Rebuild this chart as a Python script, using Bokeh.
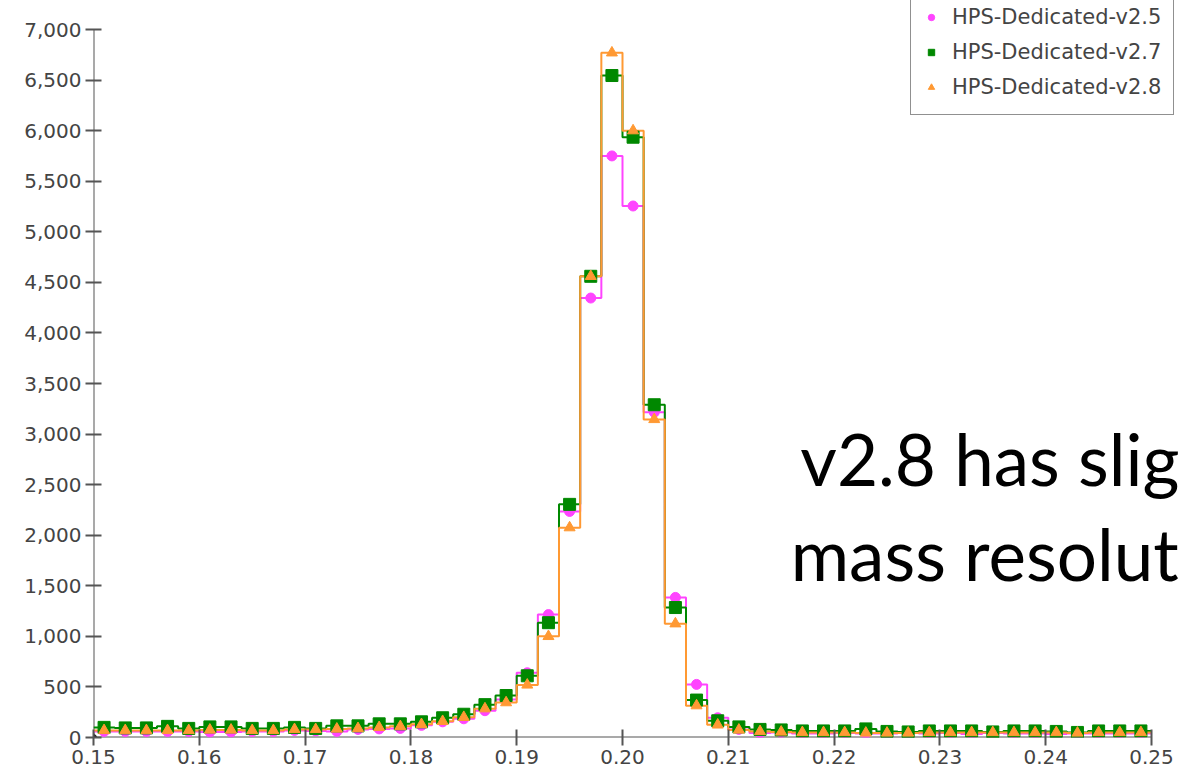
from bokeh.plotting import figure
from bokeh.models import Range1d, Label, Legend, LegendItem, NumeralTickFormatter, FixedTicker
from bokeh.embed import file_html
from bokeh.resources import INLINE

# bin centres (mass, GeV)
centers = [round(0.151 + 0.002 * i, 3) for i in range(50)]
bin_width = 0.002

v25 = [60, 60, 60, 60, 60, 55, 55, 60, 60, 70, 65, 60, 80, 85, 90, 120, 155, 185, 265, 375,
       640, 1215, 2235, 4345, 5750, 5255, 3215, 1385, 525, 195, 80, 45, 50, 40, 40, 45, 40, 40, 45, 40,
       45, 35, 45, 40, 40, 35, 40, 40, 40, 40]
v27 = [100, 95, 95, 110, 90, 105, 105, 90, 90, 100, 90, 115, 115, 135, 135, 155, 195, 230, 325, 415,
       610, 1135, 2305, 4560, 6545, 5935, 3290, 1285, 370, 165, 105, 80, 75, 65, 65, 65, 85, 60, 55, 65,
       65, 65, 55, 65, 65, 60, 50, 65, 65, 65]
v28 = [70, 70, 70, 70, 70, 75, 75, 70, 70, 80, 80, 85, 90, 100, 110, 130, 160, 200, 285, 345,
       520, 1000, 2075, 4560, 6770, 6000, 3145, 1125, 315, 125, 75, 60, 55, 50, 50, 50, 45, 45, 45, 50,
       50, 50, 50, 50, 50, 50, 45, 50, 50, 50]

names = ["HPS-Dedicated-v2.5", "HPS-Dedicated-v2.7", "HPS-Dedicated-v2.8"]
x_ticks = [0.15, 0.16, 0.17, 0.18, 0.19, 0.20, 0.21, 0.22, 0.23, 0.24, 0.25]
y_ticks = list(range(0, 7001, 500))
note_lines = ["v2.8 has slig", "mass resolut"]

# layout: plot frame reaches the canvas top/right edges (legend is cut there)
W, H = 1179, 776
left, bottom = 93, 39
axis_px_x = 1058   # pixels spanned by 0.15..0.25
axis_px_y = 708    # pixels spanned by 0..7000
frame_w, frame_h = W - left, H - bottom
x_end = x_ticks[0] + (x_ticks[-1] - x_ticks[0]) * frame_w / axis_px_x
y_end = y_ticks[-1] * frame_h / axis_px_y

p = figure(width=W, height=H, output_backend="svg", toolbar_location=None,
           x_range=Range1d(x_ticks[0], x_end), y_range=Range1d(0, y_end),
           min_border_left=left, min_border_right=0, min_border_top=0, min_border_bottom=bottom)
p.outline_line_color = None
p.xgrid.visible = False
p.ygrid.visible = False
p.background_fill_color = "white"

# own axis lines, limited to the ticked span
axis_col = "#555555"
p.segment(x0=[x_ticks[0], x_ticks[0]], y0=[0, 0], x1=[x_ticks[-1], x_ticks[0]], y1=[0, y_ticks[-1]],
          line_color=axis_col, line_width=2)

edges = [c - bin_width / 2 for c in centers] + [centers[-1] + bin_width / 2]

colors = ["#ff44ff", "#008800", "#ff9933"]
markers = ["circle", "square", "triangle"]
sizes = [10, 12, 11]
items = []
for vals, col in zip([v25, v27, v28], colors):
    p.step(edges, list(vals) + [vals[-1]], mode="after", line_color=col, line_width=2)
for vals, col, mk, sz, nm in zip([v25, v27, v28], colors, markers, sizes, names):
    r = p.scatter(centers, vals, marker=mk, size=sz, fill_color=col, line_color=col)
    items.append(LegendItem(label=nm, renderers=[r]))

p.scatter([x_ticks[0]], [0], marker="circle", size=6, fill_color="#222222", line_color="#222222")

legend = Legend(items=items, location=(817, 622), label_text_font="DejaVu Sans",
                label_text_font_size="21px", label_text_color="#444444",
                glyph_width=16, glyph_height=30, label_height=30, label_standoff=13,
                spacing=5, padding=12, border_line_color="#222222", border_line_width=1.5,
                background_fill_alpha=1.0, margin=0)
p.add_layout(legend)

for ax in (p.xaxis[0], p.yaxis[0]):
    ax.axis_line_color = None
    ax.major_tick_line_color = axis_col
    ax.major_tick_line_width = 2
    ax.major_tick_in = 8
    ax.major_tick_out = 8
    ax.minor_tick_line_color = None
    ax.major_label_text_font = "DejaVu Sans"
    ax.major_label_text_font_size = "20px"
    ax.major_label_text_color = "#444444"
    ax.major_label_standoff = 4

p.xaxis.ticker = FixedTicker(ticks=x_ticks)
p.yaxis.ticker = FixedTicker(ticks=y_ticks)
p.xaxis.formatter = NumeralTickFormatter(format="0.00")
p.yaxis.formatter = NumeralTickFormatter(format="0,0")

p.add_layout(Label(x=0.2168, y=2759, text=note_lines[0], text_font="Lato",
                   text_font_size="71px", text_color="black", text_baseline="alphabetic"))
p.add_layout(Label(x=0.2159, y=1819, text=note_lines[1], text_font="Lato",
                   text_font_size="71px", text_color="black", text_baseline="alphabetic"))

open("out.html", "w").write(file_html(p, INLINE))
